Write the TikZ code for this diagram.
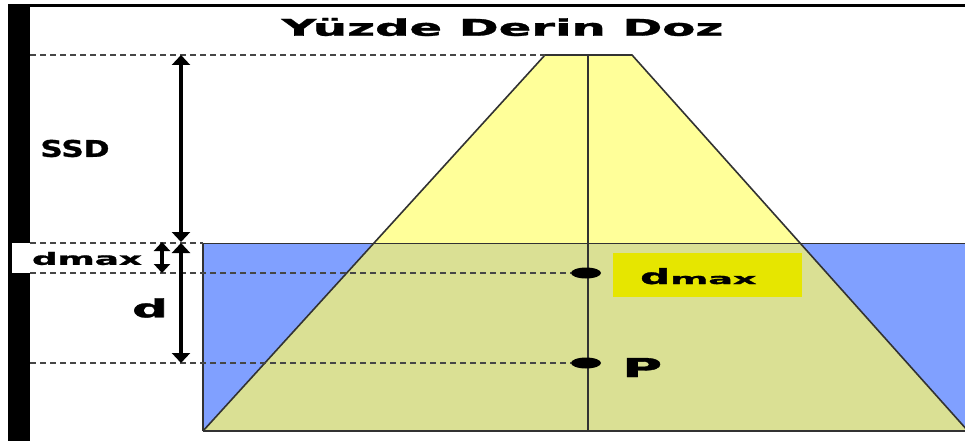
\documentclass[tikz,border=0pt]{standalone}
\usepackage{fontspec}
\setmainfont{DejaVu Sans}[BoldFeatures={FakeBold=1.2}]
\usetikzlibrary{arrows.meta,shapes.geometric}
\definecolor{waterblue}{RGB}{128,160,255}
\definecolor{beamyellow}{RGB}{255,255,153}
\definecolor{beamwater}{RGB}{218,224,148}
\definecolor{boxyellow}{RGB}{230,230,0}
\definecolor{dashgray}{RGB}{70,70,70}
\definecolor{edgegray}{RGB}{50,50,50}
\tikzset{
  guide/.style={draw=dashgray, line width=1.2pt, dash pattern=on 6pt off 4pt},
  dimarrow/.style={line width=4.5pt, {Triangle[width=18pt,length=10pt]}-{Triangle[width=18pt,length=10pt]}},
  smallarrow/.style={line width=4pt, {Triangle[width=16pt,length=9pt]}-{Triangle[width=16pt,length=9pt]}},
  dotnode/.style={ellipse, fill=black, minimum width=30pt, minimum height=11pt, inner sep=0pt},
  lbl/.style={inner sep=0pt, font=\bfseries},
}
\begin{document}
\begin{tikzpicture}[x=1pt,y=-1pt]
\useasboundingbox (0,0) rectangle (965,441);
\fill[white] (0,0) rectangle (965,441);
% water
\fill[waterblue] (203,243) rectangle (965,431);
% beam
\begin{scope}
\clip (0,0) rectangle (965,441);
\fill[beamyellow] (545,55) -- (632,55) -- (800,243) -- (374,243) -- cycle;
\fill[beamwater] (374,243) -- (800,243) -- (968,431) -- (203,431) -- cycle;
\draw[edgegray, line width=0.8pt] (203,243) -- (965,243);
\draw[edgegray, line width=1.2pt] (203,431) -- (203,243);
\draw[edgegray, line width=1.6pt] (203,431) -- (545,55) -- (632,55) -- (968,431);
\draw[edgegray, line width=1.6pt] (203,431) -- (965,431);
\end{scope}
% central axis
\coordinate (axtop) at (588,55);
\coordinate (axbot) at (588,431);
\draw[edgegray, line width=1.8pt] (axtop) -- (axbot);
% frame
\fill[black] (8,4) rectangle (965,7);
\fill[black] (8,4) rectangle (30,441);
\fill[white] (12,243) rectangle (150,273);
% dots
\node[dotnode] (dmaxdot) at (586,273) {};
\node[dotnode] (pdot) at (586,363) {};
% guide lines
\coordinate (g1) at (30,55);   \coordinate (g1e) at (545,55);
\coordinate (g2) at (30,243);  \coordinate (g2e) at (203,243);
\coordinate (g3) at (30,273);
\coordinate (g4) at (30,363);
\draw[guide] (g1) -- (g1e);
\draw[guide] (g2) -- (g2e);
\draw[guide] (g3) -- (dmaxdot.west);
\draw[guide] (g4) -- (pdot.west);
% arrows
\coordinate (ssdtop) at (181,55);
\coordinate (ssdbot) at (181,242);
\coordinate (dtop) at (181,243);
\coordinate (dbot) at (181,363);
\coordinate (mtop) at (162,242);
\coordinate (mbot) at (162,273);
\draw[dimarrow] (ssdtop) -- (ssdbot);
\draw[dimarrow] (dtop) -- (dbot);
\draw[smallarrow] (mtop) -- (mbot);
% labels
\node[lbl] (title) at (502.5,27) {\fontsize{23}{23}\selectfont\scalebox{2.09}[1]{Yüzde Derin Doz}};
\node[lbl] (ssd) at (75,148.5) {\fontsize{23}{23}\selectfont\scalebox{1.35}[1]{SSD}};
\node[lbl] (dmaxleft) at (87,258.5) {\fontsize{17}{17}\selectfont\scalebox{2.1}[1]{dmax}};
\node[lbl] (dlbl) at (150,308) {\fontsize{25}{25}\selectfont\scalebox{2}[1]{d}};
\node[fill=boxyellow, minimum width=189pt, minimum height=44pt, inner sep=0pt] (dmaxbox) at (707.5,275) {};
\node[lbl, anchor=base west] (dmaxtxt) at (640,284) {\fontsize{21}{21}\selectfont\scalebox{2}[1]{d}\fontsize{14.6}{14.6}\selectfont\scalebox{2.5}[1]{max}};
\node[lbl, anchor=base west] (plbl) at (622,377) {\fontsize{26}{26}\selectfont\scalebox{2.1}[1]{P}};
\end{tikzpicture}
\end{document}
